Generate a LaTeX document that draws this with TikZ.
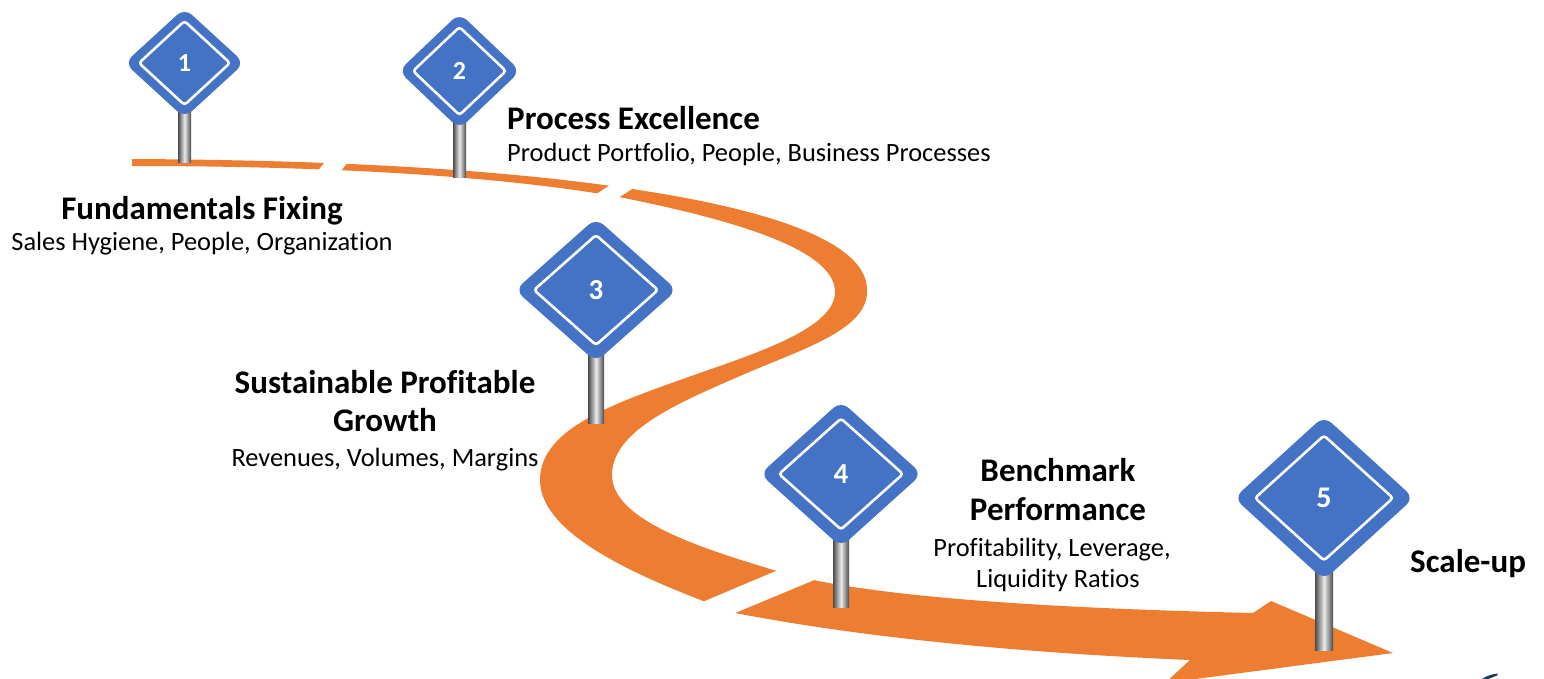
\documentclass[tikz,border=0pt]{standalone}
\usepackage{fontspec}
\setmainfont[Ligatures=NoCommon]{Carlito}
\usepackage{tikz}
\usetikzlibrary{shapes}
\usetikzlibrary{positioning}
\definecolor{roadorange}{HTML}{ED7D31}
\definecolor{signblue}{HTML}{4472C4}
\definecolor{polegray}{HTML}{4A4A4A}
\definecolor{navyblue}{HTML}{1F3864}
\tikzstyle{road}=[fill=roadorange]
\tikzstyle{roadcut}=[fill=white]
\tikzstyle{polebar}=[left color=polegray,right color=polegray,middle color=white!92!black]
\tikzstyle{signbox}=[diamond,fill=signblue,rounded corners=10pt,inner sep=0pt]
\tikzstyle{signframe}=[diamond,draw=white,line width=2.6pt,rounded corners=3pt,inner sep=0pt,text=white]
\tikzstyle{headline}=[font=\fontsize{33}{40}\selectfont\bfseries,inner sep=0pt]
\tikzstyle{subline}=[font=\fontsize{26.4}{31}\selectfont,inner sep=0pt]

\begin{document}
\begin{tikzpicture}[x=1pt,y=-1pt]

    \useasboundingbox (0,0) rectangle (1544,678);
    \clip (0,0) rectangle (1544,678);

    % the road
    \path[road] (132,159) .. controls (330,160) and (500,169) .. (632,189)
        .. controls (760,208) and (870,240) .. (867,292)
        .. controls (867,330) and (800,350) .. (747,373)
        .. controls (680,402) and (612,430) .. (612,475)
        .. controls (612,520) and (700,548) .. (777,571)
        .. controls (850,593) and (1000,607) .. (1253,613)
        -- (1271,601) -- (1393,653) -- (1165,683) -- (1190,660)
        .. controls (1000,652) and (850,635) .. (735,613)
        .. controls (660,585) and (540,540) .. (540,480)
        .. controls (540,430) and (610,405) .. (680,380)
        .. controls (750,355) and (835,330) .. (835,292)
        .. controls (835,255) and (760,225) .. (619,197)
        .. controls (500,176) and (330,166) .. (132,166)
        -- cycle;

    \foreach \a/\b/\c/\d in {{(328,158)/(351,158)/(337,176)/(314,176)},
                             {(618,180)/(646,180)/(615,200)/(587,200)},
                             {(790,565)/(831,573)/(723,618)/(693,606)}}
        \path[roadcut] \a -- \b -- \c -- \d -- cycle;

    \fill[navyblue] (1482,679) .. controls (1488,675) and (1493,674) .. (1498,673.5)
        -- (1497,675.5) .. controls (1492,677) .. (1487,679.5) -- cycle;

    % poles
    \foreach \x/\top/\bot/\w in {184.5/95/162/6.5, 459.5/105/177/6.5, 596/330/423/8,
                                 841/520/607/8, 1324/550/650/9}
        \shade[polebar] (\x-\w,\top) rectangle (\x+\w,\bot);

    % signs
    \foreach \pos/\name/\lab/\w/\h/\iw/\ih/\num/\fs in {{(184.5,63)/s1/l1/120/110/92/85/1/26},
                                                     {(459.5,71)/s2/l2/122/116/94/89/2/26},
                                                     {(596,290)/s3/l3/162/144/125/111/3/29},
                                                     {(841,474)/s4/l4/162/146/125/112/4/29},
                                                     {(1324,498)/s5/l5/180/164/139/126/5/30}}
    {
        \node[signbox,minimum width=\w pt,minimum height=\h pt] (\name) at \pos {};
        \node[signframe,minimum width=\iw pt,minimum height=\ih pt,
              font=\fontsize{\fs}{\fs}\selectfont\bfseries] (\lab) at \pos {\num};
    }

    % texts
    \foreach \pos/\name/\anc/\txt in {{(202,219)/h1/base/Fundamentals Fixing},
                                     {(507,129)/h2/base west/Process Excellence},
                                     {(385,393)/h3/base/Sustainable Profitable},
                                     {(385,431)/h3b/base/Growth},
                                     {(1058,481)/h4/base/Benchmark},
                                     {(1058,520)/h4b/base/Performance},
                                     {(1410,572)/h5/base west/Scale-up}}
        \node[headline,anchor=\anc] (\name) at \pos {\txt};

    \foreach \pos/\name/\anc/\txt in {{(202,250)/d1/base/Sales Hygiene, People, Organization},
                                     {(507,161)/d2/base west/Product Portfolio, People, Business Processes},
                                     {(385,466)/d3/base/Revenues, Volumes, Margins},
                                     {(1052,556)/d4/base/Profitability, Leverage,},
                                     {(1058,587)/d4b/base/Liquidity Ratios}}
        \node[subline,anchor=\anc] (\name) at \pos {\txt};

\end{tikzpicture}
\end{document}
